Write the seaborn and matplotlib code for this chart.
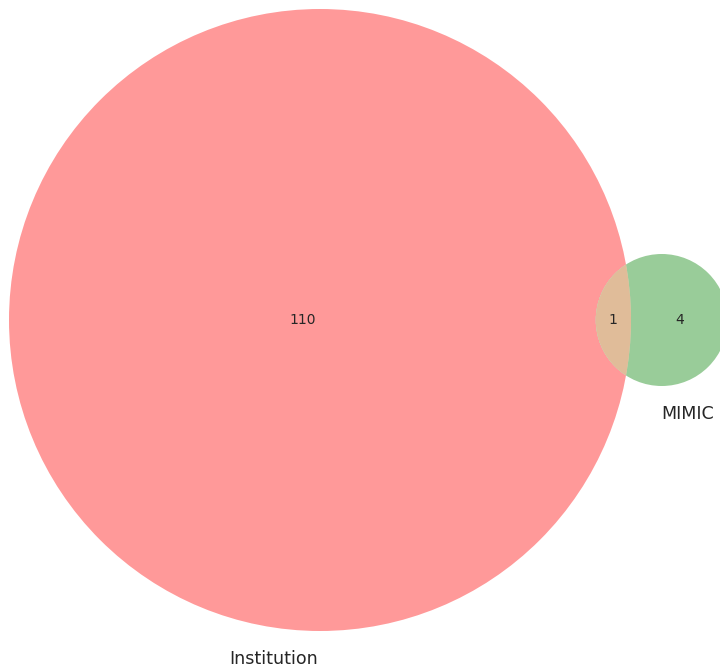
import numpy as np
import matplotlib
matplotlib.use("Agg")
import matplotlib.pyplot as plt
from matplotlib.patches import Circle
import seaborn as sns

# ---- data ----
set_labels = ["Institution", "MIMIC"]
only_a = 110
only_b = 4
both = 1

sns.set_style("white")
plt.rcParams['font.family'] = ['DejaVu Sans']

# area-proportional geometry
size_a = only_a + both
size_b = only_b + both
r_a = np.sqrt(size_a / np.pi)
r_b = np.sqrt(size_b / np.pi)


def lens_area(r1, r2, d):
    if d >= r1 + r2:
        return 0.0
    if d <= abs(r1 - r2):
        return np.pi * min(r1, r2) ** 2
    a1 = r1 ** 2 * np.arccos((d * d + r1 * r1 - r2 * r2) / (2 * d * r1))
    a2 = r2 ** 2 * np.arccos((d * d + r2 * r2 - r1 * r1) / (2 * d * r2))
    a3 = 0.5 * np.sqrt((-d + r1 + r2) * (d + r1 - r2) * (d - r1 + r2) * (d + r1 + r2))
    return a1 + a2 - a3


lo, hi = abs(r_a - r_b), r_a + r_b
for _ in range(200):
    mid = 0.5 * (lo + hi)
    if lens_area(r_a, r_b, mid) > both:
        lo = mid
    else:
        hi = mid
dist = 0.5 * (lo + hi)

ca = np.array([0.0, 0.0])
cb = np.array([dist, 0.0])

# colours (matplotlib_venn style: red / green, alpha 0.4)
col_a = np.array(matplotlib.colors.to_rgb('r'))
col_b = np.array(matplotlib.colors.to_rgb('g'))
col_ab = np.minimum(0.7 * (col_a + col_b), 1.0)
alpha = 0.4

# layout: pixel scale
W, H = 720, 669
k = 311.0 / r_a          # px per data unit
cx_px, cy_px = 320.0, 320.0

fig = plt.figure(figsize=(W / 100, H / 100), dpi=100)
ax = fig.add_axes([0, 0, 1, 1])
ax.set_xlim(-cx_px / k, (W - cx_px) / k)
ax.set_ylim(-(H - cy_px) / k, cy_px / k)
ax.set_aspect('equal')
ax.axis('off')

circ_a = Circle(ca, r_a, facecolor=col_a, alpha=alpha, linewidth=0)
circ_b = Circle(cb, r_b, facecolor='white', linewidth=0)
circ_b2 = Circle(cb, r_b, facecolor=col_b, alpha=alpha, linewidth=0)
ax.add_patch(circ_a)
ax.add_patch(circ_b)
ax.add_patch(circ_b2)
# intersection region
clip_a = Circle(ca, r_a, transform=ax.transData)
lens_white = Circle(cb, r_b, facecolor='white', linewidth=0)
lens = Circle(cb, r_b, facecolor=col_ab, alpha=alpha, linewidth=0)
ax.add_patch(lens_white)
ax.add_patch(lens)
lens_white.set_clip_path(clip_a)
lens.set_clip_path(clip_a)

# region label positions
a_left = ca[0] - r_a
a_right = ca[0] + r_a
b_left = cb[0] - r_b
b_right = cb[0] + r_b
ax.text((a_left + b_left) / 2, 0, str(only_a), ha='center', va='center', fontsize=10)
ax.text((b_left + a_right) / 2, 0, str(both), ha='center', va='center', fontsize=10)
ax.text((a_right + b_right) / 2, 0, str(only_b), ha='center', va='center', fontsize=10)

# set labels
off = 19.0 / k
ax.text(ca[0] - 2.0 / k, ca[1] - r_a - off, set_labels[0], ha='right', va='top', fontsize=12.6)
ax.text(cb[0], cb[1] - r_b - off, set_labels[1], ha='left', va='top', fontsize=12.6)

fig.savefig("out.png", dpi=100)
